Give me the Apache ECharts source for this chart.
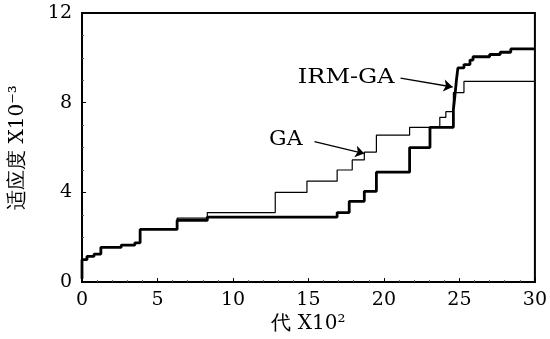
<!DOCTYPE html>
<html>
<head>
<meta charset="utf-8">
<script src="https://cdn.jsdelivr.net/npm/echarts@6/dist/echarts.min.js"></script>
<style>
  html, body { margin: 0; padding: 0; background: #fff; }
  #main { width: 550px; height: 339px; }
</style>
</head>
<body>
<div id="main"></div>
<script>
// 代 (x100) where the curve steps, and fitness (x10^-3) after the step
const irmX = [0, 0, 0.33, 0.8, 1.25, 2.6, 3.5, 3.85, 6.3, 8.3, 16.9, 17.7, 18.7, 19.5, 21.7, 23.05, 24.6, 24.7, 24.8, 24.9, 25.3, 25.7, 25.9, 27.0, 27.7, 28.4, 30];
const irmY = [0.15, 1.0, 1.15, 1.25, 1.55, 1.65, 1.75, 2.35, 2.75, 2.9, 3.1, 3.6, 4.05, 4.9, 6.0, 6.9, 7.7, 8.3, 9.0, 9.55, 9.7, 9.9, 10.05, 10.15, 10.25, 10.4, 10.4];
const gaX = [0, 0, 0.33, 0.8, 1.25, 2.6, 3.5, 3.85, 6.3, 8.3, 12.8, 14.9, 16.9, 17.9, 18.7, 19.5, 21.7, 23.7, 24.1, 24.6, 25.3, 30];
const gaY = [0.15, 1.0, 1.15, 1.25, 1.55, 1.65, 1.75, 2.35, 2.85, 3.1, 4.0, 4.5, 5.0, 5.45, 5.8, 6.55, 6.9, 7.35, 7.6, 8.45, 8.95, 8.95];

const xTicks = [0, 5, 10, 15, 20, 25, 30];
const yTicks = [0, 4, 8, 12];

// annotation positions in data units
const irmLabel = [17.5, 9.13];
const irmArrow = [[21.1, 9.1], [24.55, 8.7]];
const gaLabel = [13.5, 6.35];
const gaArrow = [[15.4, 6.26], [18.7, 5.73]];

const ink = "#000";
const serif = "DejaVu Serif";

const chartDom = document.getElementById("main");
const myChart = echarts.init(chartDom, null, { renderer: "canvas" });

const pairs = (xs, ys) => xs.map((x, i) => [x, ys[i]]);

const option = {
  animation: false,
  backgroundColor: "#fff",
  grid: {
    left: 78,
    right: 15,
    top: 13,
    bottom: 54,
    show: true,
    borderColor: ink,
    borderWidth: 2,
  },
  xAxis: {
    type: "value",
    min: xTicks[0],
    max: xTicks[xTicks.length - 1],
    interval: 5,
    name: "代 X10²",
    nameLocation: "middle",
    nameGap: 31,
    nameTextStyle: { color: ink, fontSize: 20, fontFamily: serif },
    axisLine: { lineStyle: { color: ink, width: 2 } },
    axisTick: { inside: true, length: 4, lineStyle: { color: ink } },
    minorTick: { show: true, splitNumber: 5, length: 2, lineStyle: { color: "#555" } },
    splitLine: { show: false },
    axisLabel: { color: ink, fontSize: 19, fontFamily: serif, margin: 8 },
  },
  yAxis: {
    type: "value",
    min: yTicks[0],
    max: yTicks[yTicks.length - 1],
    interval: 4,
    name: "适应度 X10⁻³",
    nameLocation: "middle",
    nameGap: 54,
    nameRotate: 90,
    nameTextStyle: { color: ink, fontSize: 20, fontFamily: serif },
    axisLine: { lineStyle: { color: ink, width: 2 } },
    axisTick: { inside: true, length: 4, lineStyle: { color: ink } },
    minorTick: { show: true, splitNumber: 4, length: 2, lineStyle: { color: "#555" } },
    splitLine: { show: false },
    axisLabel: { color: ink, fontSize: 19, fontFamily: serif, margin: 10 },
  },
  series: [
    {
      name: "GA",
      type: "line",
      step: "end",
      symbol: "none",
      lineStyle: { color: ink, width: 1.2 },
      data: pairs(gaX, gaY),
      z: 3,
    },
    {
      name: "IRM-GA",
      type: "line",
      step: "end",
      symbol: "none",
      lineStyle: { color: ink, width: 2.8 },
      data: pairs(irmX, irmY),
      z: 2,
      markLine: {
        silent: true,
        symbol: ["none", "arrow"],
        symbolSize: 9,
        label: { show: false },
        lineStyle: { color: ink, width: 1.3, type: "solid" },
        data: [
          [{ coord: irmArrow[0] }, { coord: irmArrow[1] }],
          [{ coord: gaArrow[0] }, { coord: gaArrow[1] }],
        ],
      },
    },
  ],
};

myChart.setOption(option);

// text labels placed from data coordinates
const toPx = (pt) => myChart.convertToPixel({ gridIndex: 0 }, pt);
const labelText = (pt, text, sx) => {
  const [x, y] = toPx(pt);
  return {
    type: "text",
    x: x,
    y: y,
    scaleX: sx,
    style: {
      text: text,
      fill: ink,
      font: "20px " + serif,
      textAlign: "center",
      textVerticalAlign: "middle",
    },
  };
};

myChart.setOption({
  graphic: [
    labelText(irmLabel, "IRM-GA", 1.2),
    labelText(gaLabel, "GA", 1.1),
  ],
});
</script>
</body>
</html>
